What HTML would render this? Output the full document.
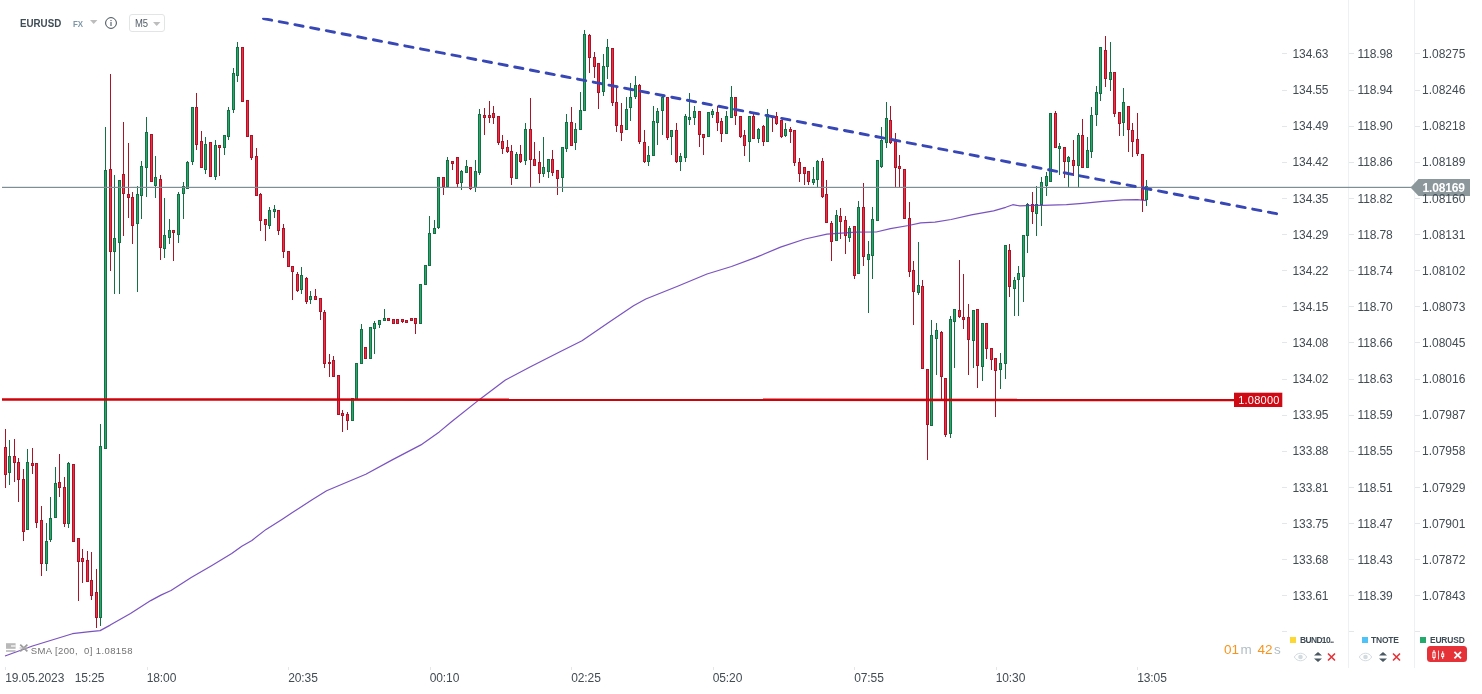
<!DOCTYPE html>
<html><head><meta charset="utf-8"><title>EURUSD M5</title>
<style>
html,body{margin:0;padding:0;background:#fff}
body{width:1482px;height:694px;position:relative;overflow:hidden;font-family:"Liberation Sans",sans-serif;color:#3e4a52}
div{position:absolute;white-space:nowrap}
.ax{font-size:12px;line-height:16px;color:#424c53;letter-spacing:-0.15px}
.tm{font-size:12px;line-height:16px;color:#424c53;letter-spacing:-0.1px}
</style></head><body>
<svg width="1482" height="694" viewBox="0 0 1482 694" style="position:absolute;left:0;top:0">
<g shape-rendering="crispEdges">
<rect x="1348" y="0" width="1" height="668" fill="#eef1f3"/>
<rect x="1414" y="0" width="1" height="668" fill="#eef1f3"/>
</g>
<g shape-rendering="crispEdges">
<rect x="5.0" y="429" width="1" height="59" fill="#a81529"/>
<rect x="4.0" y="447" width="3" height="28" fill="#a81529"/>
<rect x="5.0" y="448" width="1" height="26" fill="#f92a42"/>
<rect x="9.0" y="440" width="1" height="45" fill="#157043"/>
<rect x="8.0" y="456" width="3" height="17" fill="#157043"/>
<rect x="9.0" y="457" width="1" height="15" fill="#27a86e"/>
<rect x="14.0" y="439" width="1" height="43" fill="#a81529"/>
<rect x="13.0" y="456" width="3" height="7" fill="#a81529"/>
<rect x="14.0" y="457" width="1" height="5" fill="#f92a42"/>
<rect x="18.0" y="458" width="1" height="44" fill="#a81529"/>
<rect x="17.0" y="462" width="3" height="18" fill="#a81529"/>
<rect x="18.0" y="463" width="1" height="16" fill="#f92a42"/>
<rect x="23.0" y="469" width="1" height="72" fill="#a81529"/>
<rect x="22.0" y="479" width="3" height="53" fill="#a81529"/>
<rect x="23.0" y="480" width="1" height="51" fill="#f92a42"/>
<rect x="27.0" y="449" width="1" height="81" fill="#157043"/>
<rect x="26.0" y="462" width="3" height="68" fill="#157043"/>
<rect x="27.0" y="463" width="1" height="66" fill="#27a86e"/>
<rect x="32.0" y="448" width="1" height="26" fill="#a81529"/>
<rect x="31.0" y="463" width="3" height="3" fill="#a81529"/>
<rect x="32.0" y="464" width="1" height="1" fill="#f92a42"/>
<rect x="36.0" y="463" width="1" height="65" fill="#a81529"/>
<rect x="35.0" y="463" width="3" height="60" fill="#a81529"/>
<rect x="36.0" y="464" width="1" height="58" fill="#f92a42"/>
<rect x="41.0" y="506" width="1" height="70" fill="#a81529"/>
<rect x="40.0" y="520" width="3" height="44" fill="#a81529"/>
<rect x="41.0" y="521" width="1" height="42" fill="#f92a42"/>
<rect x="46.0" y="523" width="1" height="48" fill="#157043"/>
<rect x="45.0" y="541" width="3" height="23" fill="#157043"/>
<rect x="46.0" y="542" width="1" height="21" fill="#27a86e"/>
<rect x="50.0" y="497" width="1" height="45" fill="#157043"/>
<rect x="49.0" y="518" width="3" height="22" fill="#157043"/>
<rect x="50.0" y="519" width="1" height="20" fill="#27a86e"/>
<rect x="55.0" y="467" width="1" height="51" fill="#157043"/>
<rect x="54.0" y="483" width="3" height="35" fill="#157043"/>
<rect x="55.0" y="484" width="1" height="33" fill="#27a86e"/>
<rect x="59.0" y="454" width="1" height="43" fill="#a81529"/>
<rect x="58.0" y="482" width="3" height="6" fill="#a81529"/>
<rect x="59.0" y="483" width="1" height="4" fill="#f92a42"/>
<rect x="64.0" y="477" width="1" height="50" fill="#a81529"/>
<rect x="63.0" y="487" width="3" height="37" fill="#a81529"/>
<rect x="64.0" y="488" width="1" height="35" fill="#f92a42"/>
<rect x="68.0" y="462" width="1" height="66" fill="#157043"/>
<rect x="67.0" y="463" width="3" height="61" fill="#157043"/>
<rect x="68.0" y="464" width="1" height="59" fill="#27a86e"/>
<rect x="73.0" y="464" width="1" height="78" fill="#a81529"/>
<rect x="72.0" y="464" width="3" height="78" fill="#a81529"/>
<rect x="73.0" y="465" width="1" height="76" fill="#f92a42"/>
<rect x="78.0" y="538" width="1" height="63" fill="#a81529"/>
<rect x="77.0" y="538" width="3" height="24" fill="#a81529"/>
<rect x="78.0" y="539" width="1" height="22" fill="#f92a42"/>
<rect x="82.0" y="549" width="1" height="34" fill="#a81529"/>
<rect x="81.0" y="558" width="3" height="4" fill="#a81529"/>
<rect x="82.0" y="559" width="1" height="2" fill="#f92a42"/>
<rect x="87.0" y="551" width="1" height="31" fill="#a81529"/>
<rect x="86.0" y="560" width="3" height="22" fill="#a81529"/>
<rect x="87.0" y="561" width="1" height="20" fill="#f92a42"/>
<rect x="91.0" y="552" width="1" height="48" fill="#a81529"/>
<rect x="90.0" y="580" width="3" height="16" fill="#a81529"/>
<rect x="91.0" y="581" width="1" height="14" fill="#f92a42"/>
<rect x="96.0" y="569" width="1" height="59" fill="#a81529"/>
<rect x="95.0" y="592" width="3" height="26" fill="#a81529"/>
<rect x="96.0" y="593" width="1" height="24" fill="#f92a42"/>
<rect x="100.0" y="424" width="1" height="202" fill="#157043"/>
<rect x="99.0" y="446" width="3" height="172" fill="#157043"/>
<rect x="100.0" y="447" width="1" height="170" fill="#27a86e"/>
<rect x="105.0" y="127" width="1" height="322" fill="#157043"/>
<rect x="104.0" y="170" width="3" height="279" fill="#157043"/>
<rect x="105.0" y="171" width="1" height="277" fill="#27a86e"/>
<rect x="110.0" y="74" width="1" height="197" fill="#a81529"/>
<rect x="109.0" y="169" width="3" height="83" fill="#a81529"/>
<rect x="110.0" y="170" width="1" height="81" fill="#f92a42"/>
<rect x="114.0" y="175" width="1" height="119" fill="#157043"/>
<rect x="113.0" y="238" width="3" height="14" fill="#157043"/>
<rect x="114.0" y="239" width="1" height="12" fill="#27a86e"/>
<rect x="119.0" y="180" width="1" height="114" fill="#157043"/>
<rect x="118.0" y="180" width="3" height="63" fill="#157043"/>
<rect x="119.0" y="181" width="1" height="61" fill="#27a86e"/>
<rect x="123.0" y="122" width="1" height="114" fill="#a81529"/>
<rect x="122.0" y="174" width="3" height="20" fill="#a81529"/>
<rect x="123.0" y="175" width="1" height="18" fill="#f92a42"/>
<rect x="128.0" y="143" width="1" height="75" fill="#a81529"/>
<rect x="127.0" y="194" width="3" height="4" fill="#a81529"/>
<rect x="128.0" y="195" width="1" height="2" fill="#f92a42"/>
<rect x="132.0" y="192" width="1" height="52" fill="#a81529"/>
<rect x="131.0" y="197" width="3" height="29" fill="#a81529"/>
<rect x="132.0" y="198" width="1" height="27" fill="#f92a42"/>
<rect x="137.0" y="186" width="1" height="106" fill="#157043"/>
<rect x="136.0" y="194" width="3" height="30" fill="#157043"/>
<rect x="137.0" y="195" width="1" height="28" fill="#27a86e"/>
<rect x="141.0" y="161" width="1" height="58" fill="#157043"/>
<rect x="140.0" y="166" width="3" height="30" fill="#157043"/>
<rect x="141.0" y="167" width="1" height="28" fill="#27a86e"/>
<rect x="146.0" y="117" width="1" height="80" fill="#157043"/>
<rect x="145.0" y="132" width="3" height="36" fill="#157043"/>
<rect x="146.0" y="133" width="1" height="34" fill="#27a86e"/>
<rect x="151.0" y="134" width="1" height="48" fill="#a81529"/>
<rect x="150.0" y="134" width="3" height="48" fill="#a81529"/>
<rect x="151.0" y="135" width="1" height="46" fill="#f92a42"/>
<rect x="155.0" y="156" width="1" height="42" fill="#157043"/>
<rect x="154.0" y="177" width="3" height="9" fill="#157043"/>
<rect x="155.0" y="178" width="1" height="7" fill="#27a86e"/>
<rect x="160.0" y="175" width="1" height="85" fill="#a81529"/>
<rect x="159.0" y="179" width="3" height="69" fill="#a81529"/>
<rect x="160.0" y="180" width="1" height="67" fill="#f92a42"/>
<rect x="164.0" y="198" width="1" height="60" fill="#157043"/>
<rect x="163.0" y="235" width="3" height="14" fill="#157043"/>
<rect x="164.0" y="236" width="1" height="12" fill="#27a86e"/>
<rect x="169.0" y="219" width="1" height="25" fill="#157043"/>
<rect x="168.0" y="230" width="3" height="8" fill="#157043"/>
<rect x="169.0" y="231" width="1" height="6" fill="#27a86e"/>
<rect x="173.0" y="230" width="1" height="31" fill="#a81529"/>
<rect x="172.0" y="230" width="3" height="3" fill="#a81529"/>
<rect x="173.0" y="231" width="1" height="1" fill="#f92a42"/>
<rect x="178.0" y="192" width="1" height="51" fill="#157043"/>
<rect x="177.0" y="194" width="3" height="41" fill="#157043"/>
<rect x="178.0" y="195" width="1" height="39" fill="#27a86e"/>
<rect x="183.0" y="182" width="1" height="37" fill="#157043"/>
<rect x="182.0" y="186" width="3" height="8" fill="#157043"/>
<rect x="183.0" y="187" width="1" height="6" fill="#27a86e"/>
<rect x="187.0" y="161" width="1" height="28" fill="#157043"/>
<rect x="186.0" y="162" width="3" height="27" fill="#157043"/>
<rect x="187.0" y="163" width="1" height="25" fill="#27a86e"/>
<rect x="192.0" y="107" width="1" height="58" fill="#157043"/>
<rect x="191.0" y="107" width="3" height="55" fill="#157043"/>
<rect x="192.0" y="108" width="1" height="53" fill="#27a86e"/>
<rect x="196.0" y="93" width="1" height="57" fill="#a81529"/>
<rect x="195.0" y="107" width="3" height="38" fill="#a81529"/>
<rect x="196.0" y="108" width="1" height="36" fill="#f92a42"/>
<rect x="201.0" y="131" width="1" height="37" fill="#a81529"/>
<rect x="200.0" y="141" width="3" height="27" fill="#a81529"/>
<rect x="201.0" y="142" width="1" height="25" fill="#f92a42"/>
<rect x="205.0" y="137" width="1" height="37" fill="#157043"/>
<rect x="204.0" y="144" width="3" height="26" fill="#157043"/>
<rect x="205.0" y="145" width="1" height="24" fill="#27a86e"/>
<rect x="210.0" y="142" width="1" height="35" fill="#a81529"/>
<rect x="209.0" y="142" width="3" height="35" fill="#a81529"/>
<rect x="210.0" y="143" width="1" height="33" fill="#f92a42"/>
<rect x="215.0" y="140" width="1" height="40" fill="#157043"/>
<rect x="214.0" y="145" width="3" height="32" fill="#157043"/>
<rect x="215.0" y="146" width="1" height="30" fill="#27a86e"/>
<rect x="219.0" y="145" width="1" height="31" fill="#a81529"/>
<rect x="218.0" y="145" width="3" height="3" fill="#a81529"/>
<rect x="219.0" y="146" width="1" height="1" fill="#f92a42"/>
<rect x="224.0" y="135" width="1" height="20" fill="#157043"/>
<rect x="223.0" y="135" width="3" height="13" fill="#157043"/>
<rect x="224.0" y="136" width="1" height="11" fill="#27a86e"/>
<rect x="228.0" y="107" width="1" height="33" fill="#157043"/>
<rect x="227.0" y="110" width="3" height="27" fill="#157043"/>
<rect x="228.0" y="111" width="1" height="25" fill="#27a86e"/>
<rect x="233.0" y="68" width="1" height="45" fill="#157043"/>
<rect x="232.0" y="73" width="3" height="37" fill="#157043"/>
<rect x="233.0" y="74" width="1" height="35" fill="#27a86e"/>
<rect x="237.0" y="42" width="1" height="40" fill="#157043"/>
<rect x="236.0" y="47" width="3" height="29" fill="#157043"/>
<rect x="237.0" y="48" width="1" height="27" fill="#27a86e"/>
<rect x="242.0" y="47" width="1" height="55" fill="#a81529"/>
<rect x="241.0" y="47" width="3" height="55" fill="#a81529"/>
<rect x="242.0" y="48" width="1" height="53" fill="#f92a42"/>
<rect x="247.0" y="100" width="1" height="37" fill="#a81529"/>
<rect x="246.0" y="100" width="3" height="37" fill="#a81529"/>
<rect x="247.0" y="101" width="1" height="35" fill="#f92a42"/>
<rect x="251.0" y="135" width="1" height="25" fill="#a81529"/>
<rect x="250.0" y="135" width="3" height="23" fill="#a81529"/>
<rect x="251.0" y="136" width="1" height="21" fill="#f92a42"/>
<rect x="256.0" y="148" width="1" height="48" fill="#a81529"/>
<rect x="255.0" y="156" width="3" height="40" fill="#a81529"/>
<rect x="256.0" y="157" width="1" height="38" fill="#f92a42"/>
<rect x="260.0" y="193" width="1" height="38" fill="#a81529"/>
<rect x="259.0" y="194" width="3" height="27" fill="#a81529"/>
<rect x="260.0" y="195" width="1" height="25" fill="#f92a42"/>
<rect x="265.0" y="219" width="1" height="22" fill="#a81529"/>
<rect x="264.0" y="219" width="3" height="6" fill="#a81529"/>
<rect x="265.0" y="220" width="1" height="4" fill="#f92a42"/>
<rect x="269.0" y="207" width="1" height="22" fill="#157043"/>
<rect x="268.0" y="210" width="3" height="16" fill="#157043"/>
<rect x="269.0" y="211" width="1" height="14" fill="#27a86e"/>
<rect x="274.0" y="205" width="1" height="13" fill="#157043"/>
<rect x="273.0" y="209" width="3" height="3" fill="#157043"/>
<rect x="274.0" y="210" width="1" height="1" fill="#27a86e"/>
<rect x="278.0" y="210" width="1" height="25" fill="#a81529"/>
<rect x="277.0" y="210" width="3" height="21" fill="#a81529"/>
<rect x="278.0" y="211" width="1" height="19" fill="#f92a42"/>
<rect x="283.0" y="224" width="1" height="34" fill="#a81529"/>
<rect x="282.0" y="228" width="3" height="24" fill="#a81529"/>
<rect x="283.0" y="229" width="1" height="22" fill="#f92a42"/>
<rect x="288.0" y="251" width="1" height="16" fill="#a81529"/>
<rect x="287.0" y="251" width="3" height="16" fill="#a81529"/>
<rect x="288.0" y="252" width="1" height="14" fill="#f92a42"/>
<rect x="292.0" y="266" width="1" height="34" fill="#a81529"/>
<rect x="291.0" y="266" width="3" height="6" fill="#a81529"/>
<rect x="292.0" y="267" width="1" height="4" fill="#f92a42"/>
<rect x="297.0" y="272" width="1" height="20" fill="#a81529"/>
<rect x="296.0" y="274" width="3" height="17" fill="#a81529"/>
<rect x="297.0" y="275" width="1" height="15" fill="#f92a42"/>
<rect x="301.0" y="267" width="1" height="27" fill="#157043"/>
<rect x="300.0" y="275" width="3" height="15" fill="#157043"/>
<rect x="301.0" y="276" width="1" height="13" fill="#27a86e"/>
<rect x="306.0" y="277" width="1" height="27" fill="#a81529"/>
<rect x="305.0" y="278" width="3" height="24" fill="#a81529"/>
<rect x="306.0" y="279" width="1" height="22" fill="#f92a42"/>
<rect x="310.0" y="291" width="1" height="13" fill="#157043"/>
<rect x="309.0" y="296" width="3" height="4" fill="#157043"/>
<rect x="310.0" y="297" width="1" height="2" fill="#27a86e"/>
<rect x="315.0" y="289" width="1" height="11" fill="#a81529"/>
<rect x="314.0" y="296" width="3" height="4" fill="#a81529"/>
<rect x="315.0" y="297" width="1" height="2" fill="#f92a42"/>
<rect x="320.0" y="298" width="1" height="22" fill="#a81529"/>
<rect x="319.0" y="298" width="3" height="14" fill="#a81529"/>
<rect x="320.0" y="299" width="1" height="12" fill="#f92a42"/>
<rect x="324.0" y="310" width="1" height="58" fill="#a81529"/>
<rect x="323.0" y="312" width="3" height="52" fill="#a81529"/>
<rect x="324.0" y="313" width="1" height="50" fill="#f92a42"/>
<rect x="329.0" y="354" width="1" height="23" fill="#a81529"/>
<rect x="328.0" y="362" width="3" height="2" fill="#a81529"/>
<rect x="333.0" y="356" width="1" height="21" fill="#a81529"/>
<rect x="332.0" y="360" width="3" height="17" fill="#a81529"/>
<rect x="333.0" y="361" width="1" height="15" fill="#f92a42"/>
<rect x="338.0" y="375" width="1" height="40" fill="#a81529"/>
<rect x="337.0" y="375" width="3" height="40" fill="#a81529"/>
<rect x="338.0" y="376" width="1" height="38" fill="#f92a42"/>
<rect x="342.0" y="410" width="1" height="22" fill="#a81529"/>
<rect x="341.0" y="413" width="3" height="3" fill="#a81529"/>
<rect x="342.0" y="414" width="1" height="1" fill="#f92a42"/>
<rect x="347.0" y="412" width="1" height="18" fill="#a81529"/>
<rect x="346.0" y="414" width="3" height="7" fill="#a81529"/>
<rect x="347.0" y="415" width="1" height="5" fill="#f92a42"/>
<rect x="352.0" y="398" width="1" height="23" fill="#157043"/>
<rect x="351.0" y="398" width="3" height="23" fill="#157043"/>
<rect x="352.0" y="399" width="1" height="21" fill="#27a86e"/>
<rect x="356.0" y="363" width="1" height="37" fill="#157043"/>
<rect x="355.0" y="363" width="3" height="37" fill="#157043"/>
<rect x="356.0" y="364" width="1" height="35" fill="#27a86e"/>
<rect x="361.0" y="324" width="1" height="40" fill="#157043"/>
<rect x="360.0" y="329" width="3" height="35" fill="#157043"/>
<rect x="361.0" y="330" width="1" height="33" fill="#27a86e"/>
<rect x="365.0" y="347" width="1" height="12" fill="#a81529"/>
<rect x="364.0" y="347" width="3" height="12" fill="#a81529"/>
<rect x="365.0" y="348" width="1" height="10" fill="#f92a42"/>
<rect x="370.0" y="327" width="1" height="32" fill="#157043"/>
<rect x="369.0" y="327" width="3" height="32" fill="#157043"/>
<rect x="370.0" y="328" width="1" height="30" fill="#27a86e"/>
<rect x="374.0" y="321" width="1" height="33" fill="#157043"/>
<rect x="373.0" y="323" width="3" height="6" fill="#157043"/>
<rect x="374.0" y="324" width="1" height="4" fill="#27a86e"/>
<rect x="379.0" y="320" width="1" height="8" fill="#157043"/>
<rect x="378.0" y="320" width="3" height="5" fill="#157043"/>
<rect x="379.0" y="321" width="1" height="3" fill="#27a86e"/>
<rect x="384.0" y="309" width="1" height="12" fill="#157043"/>
<rect x="383.0" y="318" width="3" height="3" fill="#157043"/>
<rect x="384.0" y="319" width="1" height="1" fill="#27a86e"/>
<rect x="388.0" y="318" width="1" height="3" fill="#a81529"/>
<rect x="387.0" y="318" width="3" height="3" fill="#a81529"/>
<rect x="388.0" y="319" width="1" height="1" fill="#f92a42"/>
<rect x="393.0" y="319" width="1" height="5" fill="#a81529"/>
<rect x="392.0" y="319" width="3" height="5" fill="#a81529"/>
<rect x="393.0" y="320" width="1" height="3" fill="#f92a42"/>
<rect x="397.0" y="319" width="1" height="5" fill="#a81529"/>
<rect x="396.0" y="319" width="3" height="5" fill="#a81529"/>
<rect x="397.0" y="320" width="1" height="3" fill="#f92a42"/>
<rect x="402.0" y="319" width="1" height="4" fill="#a81529"/>
<rect x="401.0" y="319" width="3" height="3" fill="#a81529"/>
<rect x="402.0" y="320" width="1" height="1" fill="#f92a42"/>
<rect x="406.0" y="320" width="1" height="3" fill="#a81529"/>
<rect x="405.0" y="320" width="3" height="3" fill="#a81529"/>
<rect x="406.0" y="321" width="1" height="1" fill="#f92a42"/>
<rect x="411.0" y="318" width="1" height="3" fill="#a81529"/>
<rect x="410.0" y="318" width="3" height="3" fill="#a81529"/>
<rect x="411.0" y="319" width="1" height="1" fill="#f92a42"/>
<rect x="415.0" y="318" width="1" height="16" fill="#a81529"/>
<rect x="414.0" y="318" width="3" height="6" fill="#a81529"/>
<rect x="415.0" y="319" width="1" height="4" fill="#f92a42"/>
<rect x="420.0" y="284" width="1" height="40" fill="#157043"/>
<rect x="419.0" y="284" width="3" height="40" fill="#157043"/>
<rect x="420.0" y="285" width="1" height="38" fill="#27a86e"/>
<rect x="425.0" y="265" width="1" height="20" fill="#157043"/>
<rect x="424.0" y="265" width="3" height="20" fill="#157043"/>
<rect x="425.0" y="266" width="1" height="18" fill="#27a86e"/>
<rect x="429.0" y="216" width="1" height="50" fill="#157043"/>
<rect x="428.0" y="233" width="3" height="33" fill="#157043"/>
<rect x="429.0" y="234" width="1" height="31" fill="#27a86e"/>
<rect x="434.0" y="220" width="1" height="14" fill="#157043"/>
<rect x="433.0" y="228" width="3" height="6" fill="#157043"/>
<rect x="434.0" y="229" width="1" height="4" fill="#27a86e"/>
<rect x="438.0" y="177" width="1" height="52" fill="#157043"/>
<rect x="437.0" y="177" width="3" height="51" fill="#157043"/>
<rect x="438.0" y="178" width="1" height="49" fill="#27a86e"/>
<rect x="443.0" y="177" width="1" height="18" fill="#a81529"/>
<rect x="442.0" y="177" width="3" height="10" fill="#a81529"/>
<rect x="443.0" y="178" width="1" height="8" fill="#f92a42"/>
<rect x="447.0" y="157" width="1" height="30" fill="#157043"/>
<rect x="446.0" y="160" width="3" height="27" fill="#157043"/>
<rect x="447.0" y="161" width="1" height="25" fill="#27a86e"/>
<rect x="452.0" y="161" width="1" height="9" fill="#a81529"/>
<rect x="451.0" y="161" width="3" height="3" fill="#a81529"/>
<rect x="452.0" y="162" width="1" height="1" fill="#f92a42"/>
<rect x="457.0" y="157" width="1" height="30" fill="#a81529"/>
<rect x="456.0" y="157" width="3" height="27" fill="#a81529"/>
<rect x="457.0" y="158" width="1" height="25" fill="#f92a42"/>
<rect x="461.0" y="170" width="1" height="20" fill="#157043"/>
<rect x="460.0" y="171" width="3" height="12" fill="#157043"/>
<rect x="461.0" y="172" width="1" height="10" fill="#27a86e"/>
<rect x="466.0" y="160" width="1" height="13" fill="#157043"/>
<rect x="465.0" y="166" width="3" height="7" fill="#157043"/>
<rect x="466.0" y="167" width="1" height="5" fill="#27a86e"/>
<rect x="470.0" y="167" width="1" height="23" fill="#a81529"/>
<rect x="469.0" y="167" width="3" height="22" fill="#a81529"/>
<rect x="470.0" y="168" width="1" height="20" fill="#f92a42"/>
<rect x="475.0" y="160" width="1" height="32" fill="#157043"/>
<rect x="474.0" y="171" width="3" height="17" fill="#157043"/>
<rect x="475.0" y="172" width="1" height="15" fill="#27a86e"/>
<rect x="479.0" y="109" width="1" height="66" fill="#157043"/>
<rect x="478.0" y="114" width="3" height="59" fill="#157043"/>
<rect x="479.0" y="115" width="1" height="57" fill="#27a86e"/>
<rect x="484.0" y="108" width="1" height="27" fill="#a81529"/>
<rect x="483.0" y="115" width="3" height="3" fill="#a81529"/>
<rect x="484.0" y="116" width="1" height="1" fill="#f92a42"/>
<rect x="489.0" y="101" width="1" height="22" fill="#a81529"/>
<rect x="488.0" y="115" width="3" height="3" fill="#a81529"/>
<rect x="489.0" y="116" width="1" height="1" fill="#f92a42"/>
<rect x="493.0" y="106" width="1" height="18" fill="#a81529"/>
<rect x="492.0" y="113" width="3" height="5" fill="#a81529"/>
<rect x="493.0" y="114" width="1" height="3" fill="#f92a42"/>
<rect x="498.0" y="116" width="1" height="29" fill="#a81529"/>
<rect x="497.0" y="116" width="3" height="27" fill="#a81529"/>
<rect x="498.0" y="117" width="1" height="25" fill="#f92a42"/>
<rect x="502.0" y="135" width="1" height="19" fill="#a81529"/>
<rect x="501.0" y="141" width="3" height="8" fill="#a81529"/>
<rect x="502.0" y="142" width="1" height="6" fill="#f92a42"/>
<rect x="507.0" y="140" width="1" height="13" fill="#a81529"/>
<rect x="506.0" y="147" width="3" height="5" fill="#a81529"/>
<rect x="507.0" y="148" width="1" height="3" fill="#f92a42"/>
<rect x="511.0" y="145" width="1" height="40" fill="#a81529"/>
<rect x="510.0" y="151" width="3" height="27" fill="#a81529"/>
<rect x="511.0" y="152" width="1" height="25" fill="#f92a42"/>
<rect x="516.0" y="152" width="1" height="27" fill="#157043"/>
<rect x="515.0" y="154" width="3" height="25" fill="#157043"/>
<rect x="516.0" y="155" width="1" height="23" fill="#27a86e"/>
<rect x="520.0" y="145" width="1" height="18" fill="#a81529"/>
<rect x="519.0" y="154" width="3" height="8" fill="#a81529"/>
<rect x="520.0" y="155" width="1" height="6" fill="#f92a42"/>
<rect x="525.0" y="123" width="1" height="42" fill="#157043"/>
<rect x="524.0" y="129" width="3" height="32" fill="#157043"/>
<rect x="525.0" y="130" width="1" height="30" fill="#27a86e"/>
<rect x="530.0" y="98" width="1" height="89" fill="#a81529"/>
<rect x="529.0" y="129" width="3" height="31" fill="#a81529"/>
<rect x="530.0" y="130" width="1" height="29" fill="#f92a42"/>
<rect x="534.0" y="142" width="1" height="24" fill="#a81529"/>
<rect x="533.0" y="159" width="3" height="7" fill="#a81529"/>
<rect x="534.0" y="160" width="1" height="5" fill="#f92a42"/>
<rect x="539.0" y="151" width="1" height="32" fill="#a81529"/>
<rect x="538.0" y="162" width="3" height="12" fill="#a81529"/>
<rect x="539.0" y="163" width="1" height="10" fill="#f92a42"/>
<rect x="543.0" y="137" width="1" height="40" fill="#157043"/>
<rect x="542.0" y="167" width="3" height="7" fill="#157043"/>
<rect x="543.0" y="168" width="1" height="5" fill="#27a86e"/>
<rect x="548.0" y="159" width="1" height="19" fill="#157043"/>
<rect x="547.0" y="159" width="3" height="13" fill="#157043"/>
<rect x="548.0" y="160" width="1" height="11" fill="#27a86e"/>
<rect x="552.0" y="150" width="1" height="26" fill="#a81529"/>
<rect x="551.0" y="159" width="3" height="14" fill="#a81529"/>
<rect x="552.0" y="160" width="1" height="12" fill="#f92a42"/>
<rect x="557.0" y="170" width="1" height="25" fill="#a81529"/>
<rect x="556.0" y="170" width="3" height="9" fill="#a81529"/>
<rect x="557.0" y="171" width="1" height="7" fill="#f92a42"/>
<rect x="562.0" y="147" width="1" height="45" fill="#157043"/>
<rect x="561.0" y="147" width="3" height="31" fill="#157043"/>
<rect x="562.0" y="148" width="1" height="29" fill="#27a86e"/>
<rect x="566.0" y="114" width="1" height="38" fill="#157043"/>
<rect x="565.0" y="122" width="3" height="27" fill="#157043"/>
<rect x="566.0" y="123" width="1" height="25" fill="#27a86e"/>
<rect x="571.0" y="107" width="1" height="39" fill="#a81529"/>
<rect x="570.0" y="122" width="3" height="24" fill="#a81529"/>
<rect x="571.0" y="123" width="1" height="22" fill="#f92a42"/>
<rect x="575.0" y="123" width="1" height="27" fill="#157043"/>
<rect x="574.0" y="129" width="3" height="14" fill="#157043"/>
<rect x="575.0" y="130" width="1" height="12" fill="#27a86e"/>
<rect x="580.0" y="92" width="1" height="38" fill="#157043"/>
<rect x="579.0" y="110" width="3" height="20" fill="#157043"/>
<rect x="580.0" y="111" width="1" height="18" fill="#27a86e"/>
<rect x="584.0" y="30" width="1" height="81" fill="#157043"/>
<rect x="583.0" y="34" width="3" height="77" fill="#157043"/>
<rect x="584.0" y="35" width="1" height="75" fill="#27a86e"/>
<rect x="589.0" y="34" width="1" height="39" fill="#a81529"/>
<rect x="588.0" y="35" width="3" height="23" fill="#a81529"/>
<rect x="589.0" y="36" width="1" height="21" fill="#f92a42"/>
<rect x="594.0" y="52" width="1" height="26" fill="#a81529"/>
<rect x="593.0" y="57" width="3" height="10" fill="#a81529"/>
<rect x="594.0" y="58" width="1" height="8" fill="#f92a42"/>
<rect x="598.0" y="63" width="1" height="46" fill="#a81529"/>
<rect x="597.0" y="63" width="3" height="30" fill="#a81529"/>
<rect x="598.0" y="64" width="1" height="28" fill="#f92a42"/>
<rect x="603.0" y="54" width="1" height="42" fill="#157043"/>
<rect x="602.0" y="66" width="3" height="26" fill="#157043"/>
<rect x="603.0" y="67" width="1" height="24" fill="#27a86e"/>
<rect x="607.0" y="39" width="1" height="40" fill="#157043"/>
<rect x="606.0" y="47" width="3" height="20" fill="#157043"/>
<rect x="607.0" y="48" width="1" height="18" fill="#27a86e"/>
<rect x="612.0" y="48" width="1" height="58" fill="#a81529"/>
<rect x="611.0" y="48" width="3" height="55" fill="#a81529"/>
<rect x="612.0" y="49" width="1" height="53" fill="#f92a42"/>
<rect x="616.0" y="87" width="1" height="45" fill="#a81529"/>
<rect x="615.0" y="102" width="3" height="24" fill="#a81529"/>
<rect x="616.0" y="103" width="1" height="22" fill="#f92a42"/>
<rect x="621.0" y="103" width="1" height="38" fill="#a81529"/>
<rect x="620.0" y="125" width="3" height="8" fill="#a81529"/>
<rect x="621.0" y="126" width="1" height="6" fill="#f92a42"/>
<rect x="626.0" y="97" width="1" height="33" fill="#157043"/>
<rect x="625.0" y="109" width="3" height="21" fill="#157043"/>
<rect x="626.0" y="110" width="1" height="19" fill="#27a86e"/>
<rect x="630.0" y="83" width="1" height="38" fill="#157043"/>
<rect x="629.0" y="97" width="3" height="11" fill="#157043"/>
<rect x="630.0" y="98" width="1" height="9" fill="#27a86e"/>
<rect x="635.0" y="76" width="1" height="23" fill="#157043"/>
<rect x="634.0" y="85" width="3" height="12" fill="#157043"/>
<rect x="635.0" y="86" width="1" height="10" fill="#27a86e"/>
<rect x="639.0" y="84" width="1" height="60" fill="#a81529"/>
<rect x="638.0" y="85" width="3" height="57" fill="#a81529"/>
<rect x="639.0" y="86" width="1" height="55" fill="#f92a42"/>
<rect x="644.0" y="130" width="1" height="33" fill="#a81529"/>
<rect x="643.0" y="142" width="3" height="20" fill="#a81529"/>
<rect x="644.0" y="143" width="1" height="18" fill="#f92a42"/>
<rect x="648.0" y="146" width="1" height="20" fill="#157043"/>
<rect x="647.0" y="155" width="3" height="7" fill="#157043"/>
<rect x="648.0" y="156" width="1" height="5" fill="#27a86e"/>
<rect x="653.0" y="106" width="1" height="50" fill="#157043"/>
<rect x="652.0" y="121" width="3" height="35" fill="#157043"/>
<rect x="653.0" y="122" width="1" height="33" fill="#27a86e"/>
<rect x="657.0" y="108" width="1" height="37" fill="#157043"/>
<rect x="656.0" y="111" width="3" height="12" fill="#157043"/>
<rect x="657.0" y="112" width="1" height="10" fill="#27a86e"/>
<rect x="662.0" y="94" width="1" height="41" fill="#157043"/>
<rect x="661.0" y="97" width="3" height="14" fill="#157043"/>
<rect x="662.0" y="98" width="1" height="12" fill="#27a86e"/>
<rect x="667.0" y="97" width="1" height="43" fill="#a81529"/>
<rect x="666.0" y="97" width="3" height="41" fill="#a81529"/>
<rect x="667.0" y="98" width="1" height="39" fill="#f92a42"/>
<rect x="671.0" y="130" width="1" height="25" fill="#157043"/>
<rect x="670.0" y="130" width="3" height="7" fill="#157043"/>
<rect x="671.0" y="131" width="1" height="5" fill="#27a86e"/>
<rect x="676.0" y="123" width="1" height="40" fill="#a81529"/>
<rect x="675.0" y="130" width="3" height="32" fill="#a81529"/>
<rect x="676.0" y="131" width="1" height="30" fill="#f92a42"/>
<rect x="680.0" y="153" width="1" height="18" fill="#157043"/>
<rect x="679.0" y="156" width="3" height="6" fill="#157043"/>
<rect x="680.0" y="157" width="1" height="4" fill="#27a86e"/>
<rect x="685.0" y="114" width="1" height="48" fill="#157043"/>
<rect x="684.0" y="116" width="3" height="42" fill="#157043"/>
<rect x="685.0" y="117" width="1" height="40" fill="#27a86e"/>
<rect x="689.0" y="93" width="1" height="32" fill="#157043"/>
<rect x="688.0" y="117" width="3" height="3" fill="#157043"/>
<rect x="689.0" y="118" width="1" height="1" fill="#27a86e"/>
<rect x="694.0" y="106" width="1" height="19" fill="#157043"/>
<rect x="693.0" y="111" width="3" height="7" fill="#157043"/>
<rect x="694.0" y="112" width="1" height="5" fill="#27a86e"/>
<rect x="699.0" y="111" width="1" height="36" fill="#a81529"/>
<rect x="698.0" y="111" width="3" height="24" fill="#a81529"/>
<rect x="699.0" y="112" width="1" height="22" fill="#f92a42"/>
<rect x="703.0" y="134" width="1" height="21" fill="#a81529"/>
<rect x="702.0" y="134" width="3" height="4" fill="#a81529"/>
<rect x="703.0" y="135" width="1" height="2" fill="#f92a42"/>
<rect x="708.0" y="112" width="1" height="25" fill="#157043"/>
<rect x="707.0" y="112" width="3" height="25" fill="#157043"/>
<rect x="708.0" y="113" width="1" height="23" fill="#27a86e"/>
<rect x="712.0" y="109" width="1" height="9" fill="#157043"/>
<rect x="711.0" y="111" width="3" height="4" fill="#157043"/>
<rect x="712.0" y="112" width="1" height="2" fill="#27a86e"/>
<rect x="717.0" y="106" width="1" height="25" fill="#a81529"/>
<rect x="716.0" y="112" width="3" height="11" fill="#a81529"/>
<rect x="717.0" y="113" width="1" height="9" fill="#f92a42"/>
<rect x="721.0" y="118" width="1" height="24" fill="#a81529"/>
<rect x="720.0" y="121" width="3" height="13" fill="#a81529"/>
<rect x="721.0" y="122" width="1" height="11" fill="#f92a42"/>
<rect x="726.0" y="111" width="1" height="23" fill="#157043"/>
<rect x="725.0" y="116" width="3" height="18" fill="#157043"/>
<rect x="726.0" y="117" width="1" height="16" fill="#27a86e"/>
<rect x="731.0" y="86" width="1" height="32" fill="#157043"/>
<rect x="730.0" y="97" width="3" height="21" fill="#157043"/>
<rect x="731.0" y="98" width="1" height="19" fill="#27a86e"/>
<rect x="735.0" y="97" width="1" height="28" fill="#a81529"/>
<rect x="734.0" y="97" width="3" height="19" fill="#a81529"/>
<rect x="735.0" y="98" width="1" height="17" fill="#f92a42"/>
<rect x="740.0" y="116" width="1" height="22" fill="#a81529"/>
<rect x="739.0" y="116" width="3" height="21" fill="#a81529"/>
<rect x="740.0" y="117" width="1" height="19" fill="#f92a42"/>
<rect x="744.0" y="130" width="1" height="26" fill="#a81529"/>
<rect x="743.0" y="135" width="3" height="11" fill="#a81529"/>
<rect x="744.0" y="136" width="1" height="9" fill="#f92a42"/>
<rect x="749.0" y="116" width="1" height="46" fill="#157043"/>
<rect x="748.0" y="116" width="3" height="26" fill="#157043"/>
<rect x="749.0" y="117" width="1" height="24" fill="#27a86e"/>
<rect x="753.0" y="113" width="1" height="26" fill="#a81529"/>
<rect x="752.0" y="116" width="3" height="23" fill="#a81529"/>
<rect x="753.0" y="117" width="1" height="21" fill="#f92a42"/>
<rect x="758.0" y="128" width="1" height="15" fill="#157043"/>
<rect x="757.0" y="129" width="3" height="10" fill="#157043"/>
<rect x="758.0" y="130" width="1" height="8" fill="#27a86e"/>
<rect x="763.0" y="125" width="1" height="21" fill="#a81529"/>
<rect x="762.0" y="126" width="3" height="16" fill="#a81529"/>
<rect x="763.0" y="127" width="1" height="14" fill="#f92a42"/>
<rect x="767.0" y="109" width="1" height="33" fill="#157043"/>
<rect x="766.0" y="114" width="3" height="28" fill="#157043"/>
<rect x="767.0" y="115" width="1" height="26" fill="#27a86e"/>
<rect x="772.0" y="116" width="1" height="16" fill="#a81529"/>
<rect x="771.0" y="116" width="3" height="2" fill="#a81529"/>
<rect x="776.0" y="112" width="1" height="13" fill="#a81529"/>
<rect x="775.0" y="116" width="3" height="8" fill="#a81529"/>
<rect x="776.0" y="117" width="1" height="6" fill="#f92a42"/>
<rect x="781.0" y="120" width="1" height="18" fill="#a81529"/>
<rect x="780.0" y="120" width="3" height="17" fill="#a81529"/>
<rect x="781.0" y="121" width="1" height="15" fill="#f92a42"/>
<rect x="785.0" y="123" width="1" height="14" fill="#157043"/>
<rect x="784.0" y="129" width="3" height="7" fill="#157043"/>
<rect x="785.0" y="130" width="1" height="5" fill="#27a86e"/>
<rect x="790.0" y="127" width="1" height="16" fill="#a81529"/>
<rect x="789.0" y="129" width="3" height="3" fill="#a81529"/>
<rect x="790.0" y="130" width="1" height="1" fill="#f92a42"/>
<rect x="794.0" y="130" width="1" height="36" fill="#a81529"/>
<rect x="793.0" y="130" width="3" height="33" fill="#a81529"/>
<rect x="794.0" y="131" width="1" height="31" fill="#f92a42"/>
<rect x="799.0" y="158" width="1" height="24" fill="#a81529"/>
<rect x="798.0" y="162" width="3" height="12" fill="#a81529"/>
<rect x="799.0" y="163" width="1" height="10" fill="#f92a42"/>
<rect x="804.0" y="167" width="1" height="18" fill="#a81529"/>
<rect x="803.0" y="167" width="3" height="7" fill="#a81529"/>
<rect x="804.0" y="168" width="1" height="5" fill="#f92a42"/>
<rect x="808.0" y="171" width="1" height="14" fill="#a81529"/>
<rect x="807.0" y="171" width="3" height="11" fill="#a81529"/>
<rect x="808.0" y="172" width="1" height="9" fill="#f92a42"/>
<rect x="813.0" y="167" width="1" height="18" fill="#157043"/>
<rect x="812.0" y="179" width="3" height="4" fill="#157043"/>
<rect x="813.0" y="180" width="1" height="2" fill="#27a86e"/>
<rect x="817.0" y="160" width="1" height="28" fill="#157043"/>
<rect x="816.0" y="161" width="3" height="19" fill="#157043"/>
<rect x="817.0" y="162" width="1" height="17" fill="#27a86e"/>
<rect x="822.0" y="158" width="1" height="40" fill="#a81529"/>
<rect x="821.0" y="161" width="3" height="36" fill="#a81529"/>
<rect x="822.0" y="162" width="1" height="34" fill="#f92a42"/>
<rect x="826.0" y="180" width="1" height="43" fill="#a81529"/>
<rect x="825.0" y="194" width="3" height="29" fill="#a81529"/>
<rect x="826.0" y="195" width="1" height="27" fill="#f92a42"/>
<rect x="831.0" y="221" width="1" height="40" fill="#a81529"/>
<rect x="830.0" y="223" width="3" height="19" fill="#a81529"/>
<rect x="831.0" y="224" width="1" height="17" fill="#f92a42"/>
<rect x="836.0" y="210" width="1" height="31" fill="#157043"/>
<rect x="835.0" y="215" width="3" height="26" fill="#157043"/>
<rect x="836.0" y="216" width="1" height="24" fill="#27a86e"/>
<rect x="840.0" y="208" width="1" height="31" fill="#a81529"/>
<rect x="839.0" y="216" width="3" height="6" fill="#a81529"/>
<rect x="840.0" y="217" width="1" height="4" fill="#f92a42"/>
<rect x="845.0" y="216" width="1" height="38" fill="#a81529"/>
<rect x="844.0" y="220" width="3" height="16" fill="#a81529"/>
<rect x="845.0" y="221" width="1" height="14" fill="#f92a42"/>
<rect x="849.0" y="226" width="1" height="16" fill="#157043"/>
<rect x="848.0" y="228" width="3" height="10" fill="#157043"/>
<rect x="849.0" y="229" width="1" height="8" fill="#27a86e"/>
<rect x="854.0" y="226" width="1" height="53" fill="#a81529"/>
<rect x="853.0" y="226" width="3" height="50" fill="#a81529"/>
<rect x="854.0" y="227" width="1" height="48" fill="#f92a42"/>
<rect x="858.0" y="201" width="1" height="73" fill="#157043"/>
<rect x="857.0" y="207" width="3" height="67" fill="#157043"/>
<rect x="858.0" y="208" width="1" height="65" fill="#27a86e"/>
<rect x="863.0" y="183" width="1" height="83" fill="#a81529"/>
<rect x="862.0" y="207" width="3" height="50" fill="#a81529"/>
<rect x="863.0" y="208" width="1" height="48" fill="#f92a42"/>
<rect x="868.0" y="241" width="1" height="72" fill="#157043"/>
<rect x="867.0" y="254" width="3" height="6" fill="#157043"/>
<rect x="868.0" y="255" width="1" height="4" fill="#27a86e"/>
<rect x="872.0" y="207" width="1" height="72" fill="#157043"/>
<rect x="871.0" y="219" width="3" height="37" fill="#157043"/>
<rect x="872.0" y="220" width="1" height="35" fill="#27a86e"/>
<rect x="877.0" y="160" width="1" height="61" fill="#157043"/>
<rect x="876.0" y="160" width="3" height="61" fill="#157043"/>
<rect x="877.0" y="161" width="1" height="59" fill="#27a86e"/>
<rect x="881.0" y="127" width="1" height="41" fill="#157043"/>
<rect x="880.0" y="140" width="3" height="27" fill="#157043"/>
<rect x="881.0" y="141" width="1" height="25" fill="#27a86e"/>
<rect x="886.0" y="102" width="1" height="46" fill="#157043"/>
<rect x="885.0" y="118" width="3" height="25" fill="#157043"/>
<rect x="886.0" y="119" width="1" height="23" fill="#27a86e"/>
<rect x="890.0" y="106" width="1" height="38" fill="#a81529"/>
<rect x="889.0" y="120" width="3" height="23" fill="#a81529"/>
<rect x="890.0" y="121" width="1" height="21" fill="#f92a42"/>
<rect x="895.0" y="133" width="1" height="54" fill="#a81529"/>
<rect x="894.0" y="141" width="3" height="27" fill="#a81529"/>
<rect x="895.0" y="142" width="1" height="25" fill="#f92a42"/>
<rect x="899.0" y="155" width="1" height="32" fill="#a81529"/>
<rect x="898.0" y="166" width="3" height="3" fill="#a81529"/>
<rect x="899.0" y="167" width="1" height="1" fill="#f92a42"/>
<rect x="904.0" y="169" width="1" height="50" fill="#a81529"/>
<rect x="903.0" y="169" width="3" height="50" fill="#a81529"/>
<rect x="904.0" y="170" width="1" height="48" fill="#f92a42"/>
<rect x="909.0" y="202" width="1" height="75" fill="#a81529"/>
<rect x="908.0" y="218" width="3" height="54" fill="#a81529"/>
<rect x="909.0" y="219" width="1" height="52" fill="#f92a42"/>
<rect x="913.0" y="261" width="1" height="64" fill="#a81529"/>
<rect x="912.0" y="270" width="3" height="22" fill="#a81529"/>
<rect x="913.0" y="271" width="1" height="20" fill="#f92a42"/>
<rect x="918.0" y="242" width="1" height="53" fill="#157043"/>
<rect x="917.0" y="285" width="3" height="8" fill="#157043"/>
<rect x="918.0" y="286" width="1" height="6" fill="#27a86e"/>
<rect x="922.0" y="280" width="1" height="89" fill="#a81529"/>
<rect x="921.0" y="286" width="3" height="83" fill="#a81529"/>
<rect x="922.0" y="287" width="1" height="81" fill="#f92a42"/>
<rect x="927.0" y="369" width="1" height="91" fill="#a81529"/>
<rect x="926.0" y="369" width="3" height="56" fill="#a81529"/>
<rect x="927.0" y="370" width="1" height="54" fill="#f92a42"/>
<rect x="931.0" y="320" width="1" height="106" fill="#157043"/>
<rect x="930.0" y="335" width="3" height="91" fill="#157043"/>
<rect x="931.0" y="336" width="1" height="89" fill="#27a86e"/>
<rect x="936.0" y="323" width="1" height="52" fill="#157043"/>
<rect x="935.0" y="330" width="3" height="9" fill="#157043"/>
<rect x="936.0" y="331" width="1" height="7" fill="#27a86e"/>
<rect x="941.0" y="331" width="1" height="69" fill="#a81529"/>
<rect x="940.0" y="332" width="3" height="45" fill="#a81529"/>
<rect x="941.0" y="333" width="1" height="43" fill="#f92a42"/>
<rect x="945.0" y="378" width="1" height="59" fill="#a81529"/>
<rect x="944.0" y="378" width="3" height="57" fill="#a81529"/>
<rect x="945.0" y="379" width="1" height="55" fill="#f92a42"/>
<rect x="950.0" y="316" width="1" height="122" fill="#157043"/>
<rect x="949.0" y="319" width="3" height="115" fill="#157043"/>
<rect x="950.0" y="320" width="1" height="113" fill="#27a86e"/>
<rect x="954.0" y="309" width="1" height="59" fill="#157043"/>
<rect x="953.0" y="309" width="3" height="13" fill="#157043"/>
<rect x="954.0" y="310" width="1" height="11" fill="#27a86e"/>
<rect x="959.0" y="260" width="1" height="58" fill="#a81529"/>
<rect x="958.0" y="310" width="3" height="7" fill="#a81529"/>
<rect x="959.0" y="311" width="1" height="5" fill="#f92a42"/>
<rect x="963.0" y="274" width="1" height="55" fill="#a81529"/>
<rect x="962.0" y="317" width="3" height="3" fill="#a81529"/>
<rect x="963.0" y="318" width="1" height="1" fill="#f92a42"/>
<rect x="968.0" y="304" width="1" height="71" fill="#a81529"/>
<rect x="967.0" y="317" width="3" height="23" fill="#a81529"/>
<rect x="968.0" y="318" width="1" height="21" fill="#f92a42"/>
<rect x="973.0" y="310" width="1" height="58" fill="#157043"/>
<rect x="972.0" y="310" width="3" height="31" fill="#157043"/>
<rect x="973.0" y="311" width="1" height="29" fill="#27a86e"/>
<rect x="977.0" y="309" width="1" height="79" fill="#a81529"/>
<rect x="976.0" y="309" width="3" height="57" fill="#a81529"/>
<rect x="977.0" y="310" width="1" height="55" fill="#f92a42"/>
<rect x="982.0" y="323" width="1" height="58" fill="#157043"/>
<rect x="981.0" y="323" width="3" height="44" fill="#157043"/>
<rect x="982.0" y="324" width="1" height="42" fill="#27a86e"/>
<rect x="986.0" y="323" width="1" height="36" fill="#a81529"/>
<rect x="985.0" y="323" width="3" height="26" fill="#a81529"/>
<rect x="986.0" y="324" width="1" height="24" fill="#f92a42"/>
<rect x="991.0" y="348" width="1" height="22" fill="#a81529"/>
<rect x="990.0" y="348" width="3" height="12" fill="#a81529"/>
<rect x="991.0" y="349" width="1" height="10" fill="#f92a42"/>
<rect x="995.0" y="358" width="1" height="59" fill="#a81529"/>
<rect x="994.0" y="358" width="3" height="13" fill="#a81529"/>
<rect x="995.0" y="359" width="1" height="11" fill="#f92a42"/>
<rect x="1000.0" y="353" width="1" height="36" fill="#157043"/>
<rect x="999.0" y="363" width="3" height="7" fill="#157043"/>
<rect x="1000.0" y="364" width="1" height="5" fill="#27a86e"/>
<rect x="1005.0" y="245" width="1" height="134" fill="#157043"/>
<rect x="1004.0" y="245" width="3" height="119" fill="#157043"/>
<rect x="1005.0" y="246" width="1" height="117" fill="#27a86e"/>
<rect x="1009.0" y="244" width="1" height="53" fill="#a81529"/>
<rect x="1008.0" y="250" width="3" height="37" fill="#a81529"/>
<rect x="1009.0" y="251" width="1" height="35" fill="#f92a42"/>
<rect x="1014.0" y="277" width="1" height="39" fill="#157043"/>
<rect x="1013.0" y="280" width="3" height="9" fill="#157043"/>
<rect x="1014.0" y="281" width="1" height="7" fill="#27a86e"/>
<rect x="1018.0" y="266" width="1" height="50" fill="#157043"/>
<rect x="1017.0" y="273" width="3" height="7" fill="#157043"/>
<rect x="1018.0" y="274" width="1" height="5" fill="#27a86e"/>
<rect x="1023.0" y="235" width="1" height="67" fill="#157043"/>
<rect x="1022.0" y="235" width="3" height="42" fill="#157043"/>
<rect x="1023.0" y="236" width="1" height="40" fill="#27a86e"/>
<rect x="1027.0" y="203" width="1" height="50" fill="#157043"/>
<rect x="1026.0" y="204" width="3" height="32" fill="#157043"/>
<rect x="1027.0" y="205" width="1" height="30" fill="#27a86e"/>
<rect x="1032.0" y="192" width="1" height="32" fill="#a81529"/>
<rect x="1031.0" y="204" width="3" height="8" fill="#a81529"/>
<rect x="1032.0" y="205" width="1" height="6" fill="#f92a42"/>
<rect x="1036.0" y="186" width="1" height="50" fill="#157043"/>
<rect x="1035.0" y="204" width="3" height="10" fill="#157043"/>
<rect x="1036.0" y="205" width="1" height="8" fill="#27a86e"/>
<rect x="1041.0" y="177" width="1" height="49" fill="#157043"/>
<rect x="1040.0" y="182" width="3" height="23" fill="#157043"/>
<rect x="1041.0" y="183" width="1" height="21" fill="#27a86e"/>
<rect x="1046.0" y="172" width="1" height="24" fill="#157043"/>
<rect x="1045.0" y="176" width="3" height="10" fill="#157043"/>
<rect x="1046.0" y="177" width="1" height="8" fill="#27a86e"/>
<rect x="1050.0" y="113" width="1" height="69" fill="#157043"/>
<rect x="1049.0" y="113" width="3" height="69" fill="#157043"/>
<rect x="1050.0" y="114" width="1" height="67" fill="#27a86e"/>
<rect x="1055.0" y="111" width="1" height="37" fill="#a81529"/>
<rect x="1054.0" y="113" width="3" height="35" fill="#a81529"/>
<rect x="1055.0" y="114" width="1" height="33" fill="#f92a42"/>
<rect x="1059.0" y="143" width="1" height="32" fill="#157043"/>
<rect x="1058.0" y="146" width="3" height="3" fill="#157043"/>
<rect x="1059.0" y="147" width="1" height="1" fill="#27a86e"/>
<rect x="1064.0" y="147" width="1" height="31" fill="#a81529"/>
<rect x="1063.0" y="147" width="3" height="15" fill="#a81529"/>
<rect x="1064.0" y="148" width="1" height="13" fill="#f92a42"/>
<rect x="1068.0" y="156" width="1" height="31" fill="#157043"/>
<rect x="1067.0" y="157" width="3" height="5" fill="#157043"/>
<rect x="1068.0" y="158" width="1" height="3" fill="#27a86e"/>
<rect x="1073.0" y="140" width="1" height="36" fill="#a81529"/>
<rect x="1072.0" y="160" width="3" height="6" fill="#a81529"/>
<rect x="1073.0" y="161" width="1" height="4" fill="#f92a42"/>
<rect x="1078.0" y="133" width="1" height="54" fill="#157043"/>
<rect x="1077.0" y="135" width="3" height="31" fill="#157043"/>
<rect x="1078.0" y="136" width="1" height="29" fill="#27a86e"/>
<rect x="1082.0" y="119" width="1" height="49" fill="#a81529"/>
<rect x="1081.0" y="135" width="3" height="33" fill="#a81529"/>
<rect x="1082.0" y="136" width="1" height="31" fill="#f92a42"/>
<rect x="1087.0" y="137" width="1" height="31" fill="#157043"/>
<rect x="1086.0" y="150" width="3" height="18" fill="#157043"/>
<rect x="1087.0" y="151" width="1" height="16" fill="#27a86e"/>
<rect x="1091.0" y="107" width="1" height="51" fill="#157043"/>
<rect x="1090.0" y="115" width="3" height="37" fill="#157043"/>
<rect x="1091.0" y="116" width="1" height="35" fill="#27a86e"/>
<rect x="1096.0" y="86" width="1" height="40" fill="#157043"/>
<rect x="1095.0" y="92" width="3" height="23" fill="#157043"/>
<rect x="1096.0" y="93" width="1" height="21" fill="#27a86e"/>
<rect x="1100.0" y="47" width="1" height="54" fill="#157043"/>
<rect x="1099.0" y="47" width="3" height="47" fill="#157043"/>
<rect x="1100.0" y="48" width="1" height="45" fill="#27a86e"/>
<rect x="1105.0" y="36" width="1" height="51" fill="#a81529"/>
<rect x="1104.0" y="50" width="3" height="29" fill="#a81529"/>
<rect x="1105.0" y="51" width="1" height="27" fill="#f92a42"/>
<rect x="1110.0" y="42" width="1" height="49" fill="#157043"/>
<rect x="1109.0" y="72" width="3" height="8" fill="#157043"/>
<rect x="1110.0" y="73" width="1" height="6" fill="#27a86e"/>
<rect x="1114.0" y="72" width="1" height="45" fill="#a81529"/>
<rect x="1113.0" y="72" width="3" height="42" fill="#a81529"/>
<rect x="1114.0" y="73" width="1" height="40" fill="#f92a42"/>
<rect x="1119.0" y="112" width="1" height="24" fill="#a81529"/>
<rect x="1118.0" y="112" width="3" height="12" fill="#a81529"/>
<rect x="1119.0" y="113" width="1" height="10" fill="#f92a42"/>
<rect x="1123.0" y="88" width="1" height="48" fill="#157043"/>
<rect x="1122.0" y="102" width="3" height="21" fill="#157043"/>
<rect x="1123.0" y="103" width="1" height="19" fill="#27a86e"/>
<rect x="1128.0" y="106" width="1" height="46" fill="#a81529"/>
<rect x="1127.0" y="106" width="3" height="24" fill="#a81529"/>
<rect x="1128.0" y="107" width="1" height="22" fill="#f92a42"/>
<rect x="1132.0" y="123" width="1" height="34" fill="#a81529"/>
<rect x="1131.0" y="130" width="3" height="12" fill="#a81529"/>
<rect x="1132.0" y="131" width="1" height="10" fill="#f92a42"/>
<rect x="1137.0" y="113" width="1" height="43" fill="#a81529"/>
<rect x="1136.0" y="139" width="3" height="15" fill="#a81529"/>
<rect x="1137.0" y="140" width="1" height="13" fill="#f92a42"/>
<rect x="1142.0" y="154" width="1" height="58" fill="#a81529"/>
<rect x="1141.0" y="154" width="3" height="46" fill="#a81529"/>
<rect x="1142.0" y="155" width="1" height="44" fill="#f92a42"/>
<rect x="1146.0" y="180" width="1" height="26" fill="#157043"/>
<rect x="1145.0" y="186" width="3" height="14" fill="#157043"/>
<rect x="1146.0" y="187" width="1" height="12" fill="#27a86e"/>
</g>
<polyline points="5,656 32.5,646 72.4,633.7 90,631.6 100.1,630.6 110.2,625.1 130.5,613.4 150.7,600.6 160.9,595.1 171,590.5 191.2,577.5 211.5,565.8 231.7,553.6 241.8,546.2 251.9,540.5 266.1,529.4 282.3,519.2 292.4,512.6 311.7,500 326.6,490.8 365.8,474.3 392.7,459.6 420.9,444.9 439.3,431.9 451.5,421.7 480.9,398.4 505.4,380 530.5,366.8 560,351.7 582,340.7 609,322.3 633.5,305.7 645.8,299 677.6,286.3 707,274 731.5,266.5 756,257.4 780.5,247.1 805,239 827,234.1 856,232.1 876.2,232 890.4,228.6 908.6,225.5 920.7,222.9 934.9,222.1 951.1,219.5 971.3,214.8 993.6,210.8 1005.7,207.3 1012.8,204.7 1019.9,205.9 1032,205.3 1042.2,205.3 1066.5,204.7 1082.7,203.3 1102.9,201.3 1123.2,199.8 1137.3,199.6 1146.4,200.6" fill="none" stroke="#673ab7" stroke-opacity="0.88" stroke-width="1.2" stroke-linejoin="round"/>
<rect x="2" y="186.8" width="1412" height="1.2" fill="#7f8d95"/>
<line x1="2" y1="399.5" x2="1236" y2="400" stroke="#cf0209" stroke-width="2.5"/>
<clipPath id="cp"><rect x="0" y="17.8" width="1482" height="660"/></clipPath><line clip-path="url(#cp)" x1="263.5" y1="18.6" x2="1277" y2="213.75" stroke="#3747b6" stroke-width="2.9" stroke-linecap="round" stroke-dasharray="8.3 7.69"/>
<path d="M1410.5 187.5 L1418.5 179 H1470 V196 H1418.5 Z" fill="#8c979c"/>
<rect x="1234" y="392.7" width="48.3" height="14.3" fill="#cf0a14"/>
<g shape-rendering="crispEdges" fill="#e3e7ea">
<rect x="1282" y="53" width="5" height="1"/>
<rect x="1349" y="53" width="5" height="1"/>
<rect x="1415" y="53" width="5" height="1"/>
<rect x="1282" y="90" width="5" height="1"/>
<rect x="1349" y="90" width="5" height="1"/>
<rect x="1415" y="90" width="5" height="1"/>
<rect x="1282" y="126" width="5" height="1"/>
<rect x="1349" y="126" width="5" height="1"/>
<rect x="1415" y="126" width="5" height="1"/>
<rect x="1282" y="162" width="5" height="1"/>
<rect x="1349" y="162" width="5" height="1"/>
<rect x="1415" y="162" width="5" height="1"/>
<rect x="1282" y="198" width="5" height="1"/>
<rect x="1349" y="198" width="5" height="1"/>
<rect x="1415" y="198" width="5" height="1"/>
<rect x="1282" y="234" width="5" height="1"/>
<rect x="1349" y="234" width="5" height="1"/>
<rect x="1415" y="234" width="5" height="1"/>
<rect x="1282" y="270" width="5" height="1"/>
<rect x="1349" y="270" width="5" height="1"/>
<rect x="1415" y="270" width="5" height="1"/>
<rect x="1282" y="306" width="5" height="1"/>
<rect x="1349" y="306" width="5" height="1"/>
<rect x="1415" y="306" width="5" height="1"/>
<rect x="1282" y="342" width="5" height="1"/>
<rect x="1349" y="342" width="5" height="1"/>
<rect x="1415" y="342" width="5" height="1"/>
<rect x="1282" y="379" width="5" height="1"/>
<rect x="1349" y="379" width="5" height="1"/>
<rect x="1415" y="379" width="5" height="1"/>
<rect x="1282" y="415" width="5" height="1"/>
<rect x="1349" y="415" width="5" height="1"/>
<rect x="1415" y="415" width="5" height="1"/>
<rect x="1282" y="451" width="5" height="1"/>
<rect x="1349" y="451" width="5" height="1"/>
<rect x="1415" y="451" width="5" height="1"/>
<rect x="1282" y="487" width="5" height="1"/>
<rect x="1349" y="487" width="5" height="1"/>
<rect x="1415" y="487" width="5" height="1"/>
<rect x="1282" y="523" width="5" height="1"/>
<rect x="1349" y="523" width="5" height="1"/>
<rect x="1415" y="523" width="5" height="1"/>
<rect x="1282" y="559" width="5" height="1"/>
<rect x="1349" y="559" width="5" height="1"/>
<rect x="1415" y="559" width="5" height="1"/>
<rect x="1282" y="595" width="5" height="1"/>
<rect x="1349" y="595" width="5" height="1"/>
<rect x="1415" y="595" width="5" height="1"/>
<rect x="1282" y="631" width="5" height="1"/>
<rect x="1349" y="631" width="5" height="1"/>
<rect x="1415" y="631" width="5" height="1"/>
<rect x="5" y="667" width="1" height="3"/>
<rect x="147" y="667" width="1" height="3"/>
<rect x="288" y="667" width="1" height="3"/>
<rect x="430" y="667" width="1" height="3"/>
<rect x="571" y="667" width="1" height="3"/>
<rect x="713" y="667" width="1" height="3"/>
<rect x="854" y="667" width="1" height="3"/>
<rect x="996" y="667" width="1" height="3"/>
<rect x="1137" y="667" width="1" height="3"/>
</g>
</svg>
<div class="ax" style="left:1292.6px;top:45.84px;letter-spacing:-0.15px">134.63</div>
<div class="ax" style="left:1357.6px;top:45.84px;letter-spacing:-0.15px">118.98</div>
<div class="ax" style="left:1422px;top:45.84px;letter-spacing:0px">1.08275</div>
<div class="ax" style="left:1292.6px;top:81.84px;letter-spacing:-0.15px">134.55</div>
<div class="ax" style="left:1357.6px;top:81.84px;letter-spacing:-0.15px">118.94</div>
<div class="ax" style="left:1422px;top:81.84px;letter-spacing:0px">1.08246</div>
<div class="ax" style="left:1292.6px;top:117.84px;letter-spacing:-0.15px">134.49</div>
<div class="ax" style="left:1357.6px;top:117.84px;letter-spacing:-0.15px">118.90</div>
<div class="ax" style="left:1422px;top:117.84px;letter-spacing:0px">1.08218</div>
<div class="ax" style="left:1292.6px;top:153.84px;letter-spacing:-0.15px">134.42</div>
<div class="ax" style="left:1357.6px;top:153.84px;letter-spacing:-0.15px">118.86</div>
<div class="ax" style="left:1422px;top:153.84px;letter-spacing:0px">1.08189</div>
<div class="ax" style="left:1292.6px;top:190.84px;letter-spacing:-0.15px">134.35</div>
<div class="ax" style="left:1357.6px;top:190.84px;letter-spacing:-0.15px">118.82</div>
<div class="ax" style="left:1422px;top:190.84px;letter-spacing:0px">1.08160</div>
<div class="ax" style="left:1292.6px;top:226.84px;letter-spacing:-0.15px">134.29</div>
<div class="ax" style="left:1357.6px;top:226.84px;letter-spacing:-0.15px">118.78</div>
<div class="ax" style="left:1422px;top:226.84px;letter-spacing:0px">1.08131</div>
<div class="ax" style="left:1292.6px;top:262.84px;letter-spacing:-0.15px">134.22</div>
<div class="ax" style="left:1357.6px;top:262.84px;letter-spacing:-0.15px">118.74</div>
<div class="ax" style="left:1422px;top:262.84px;letter-spacing:0px">1.08102</div>
<div class="ax" style="left:1292.6px;top:298.84px;letter-spacing:-0.15px">134.15</div>
<div class="ax" style="left:1357.6px;top:298.84px;letter-spacing:-0.15px">118.70</div>
<div class="ax" style="left:1422px;top:298.84px;letter-spacing:0px">1.08073</div>
<div class="ax" style="left:1292.6px;top:334.84px;letter-spacing:-0.15px">134.08</div>
<div class="ax" style="left:1357.6px;top:334.84px;letter-spacing:-0.15px">118.66</div>
<div class="ax" style="left:1422px;top:334.84px;letter-spacing:0px">1.08045</div>
<div class="ax" style="left:1292.6px;top:370.84px;letter-spacing:-0.15px">134.02</div>
<div class="ax" style="left:1357.6px;top:370.84px;letter-spacing:-0.15px">118.63</div>
<div class="ax" style="left:1422px;top:370.84px;letter-spacing:0px">1.08016</div>
<div class="ax" style="left:1292.6px;top:406.84px;letter-spacing:-0.15px">133.95</div>
<div class="ax" style="left:1357.6px;top:406.84px;letter-spacing:-0.15px">118.59</div>
<div class="ax" style="left:1422px;top:406.84px;letter-spacing:0px">1.07987</div>
<div class="ax" style="left:1292.6px;top:442.84px;letter-spacing:-0.15px">133.88</div>
<div class="ax" style="left:1357.6px;top:442.84px;letter-spacing:-0.15px">118.55</div>
<div class="ax" style="left:1422px;top:442.84px;letter-spacing:0px">1.07958</div>
<div class="ax" style="left:1292.6px;top:479.84px;letter-spacing:-0.15px">133.81</div>
<div class="ax" style="left:1357.6px;top:479.84px;letter-spacing:-0.15px">118.51</div>
<div class="ax" style="left:1422px;top:479.84px;letter-spacing:0px">1.07929</div>
<div class="ax" style="left:1292.6px;top:515.84px;letter-spacing:-0.15px">133.75</div>
<div class="ax" style="left:1357.6px;top:515.84px;letter-spacing:-0.15px">118.47</div>
<div class="ax" style="left:1422px;top:515.84px;letter-spacing:0px">1.07901</div>
<div class="ax" style="left:1292.6px;top:551.84px;letter-spacing:-0.15px">133.68</div>
<div class="ax" style="left:1357.6px;top:551.84px;letter-spacing:-0.15px">118.43</div>
<div class="ax" style="left:1422px;top:551.84px;letter-spacing:0px">1.07872</div>
<div class="ax" style="left:1292.6px;top:587.84px;letter-spacing:-0.15px">133.61</div>
<div class="ax" style="left:1357.6px;top:587.84px;letter-spacing:-0.15px">118.39</div>
<div class="ax" style="left:1422px;top:587.84px;letter-spacing:0px">1.07843</div>
<div class="tm" style="left:5.2px;top:670px">19.05.2023<span style="margin-left:10.5px">15:25</span></div>
<div class="tm" style="left:146.7px;top:670px">18:00</div>
<div class="tm" style="left:288.2px;top:670px">20:35</div>
<div class="tm" style="left:429.7px;top:670px">00:10</div>
<div class="tm" style="left:571.2px;top:670px">02:25</div>
<div class="tm" style="left:712.7px;top:670px">05:20</div>
<div class="tm" style="left:854.2px;top:670px">07:55</div>
<div class="tm" style="left:995.7px;top:670px">10:30</div>
<div class="tm" style="left:1137.2px;top:670px">13:05</div>
<div style="left:20px;top:15px;font-size:10.5px;line-height:16px;font-weight:bold;color:#3f4d57;transform-origin:0 50%;transform:scaleX(.93)">EURUSD</div>
<div style="left:73px;top:16.6px;font-size:8.5px;line-height:14px;font-weight:bold;color:#7d97a7;transform-origin:0 50%;transform:scaleX(.93)">FX</div>
<svg width="8" height="5" style="position:absolute;left:89.5px;top:19.5px"><path d="M0 0H7.4L3.7 4Z" fill="#bdbdbd"/></svg>
<svg width="14" height="14" style="position:absolute;left:104.2px;top:16px"><circle cx="7" cy="7" r="5.4" fill="none" stroke="#3f4d57" stroke-width="1"/><rect x="6.5" y="6" width="1" height="4" fill="#3f4d57"/><rect x="6.5" y="4" width="1" height="1.1" fill="#3f4d57"/></svg>
<div style="left:128.6px;top:13.6px;width:34px;height:16px;border:1px solid #e2e4e6;border-radius:3px"></div>
<div style="left:134.8px;top:15.3px;font-size:10.5px;line-height:16px;color:#56606a;transform-origin:0 50%;transform:scaleX(.9)">M5</div>
<svg width="8" height="5" style="position:absolute;left:153.4px;top:22.2px"><path d="M0 0H7.4L3.7 4Z" fill="#bdbdbd"/></svg>
<div style="left:1422.5px;top:179.5px;font-size:12px;line-height:16px;font-weight:bold;color:#fff;letter-spacing:-0.15px">1.08169</div>
<div style="left:1238.2px;top:393px;font-size:11px;line-height:14px;color:#fff;letter-spacing:0.25px">1.08000</div>
<div style="left:30.8px;top:643.9px;font-size:9.5px;line-height:14px;color:#727272;letter-spacing:.38px">SMA [200,&nbsp; 0] 1.08158</div>
<svg width="26" height="12" style="position:absolute;left:5px;top:642px"><g fill="#b9b9b9"><rect x="1" y="1.200" width="9.600" height="5.600"/><rect x="1" y="8.200" width="9.600" height="1.600"/></g><rect x="6" y="3.400" width="4.600" height="1.200" fill="#fff"/><path d="M15.200 2.600L22.400 9.400M22.400 2.600L15.200 9.400" stroke="#9a9a9a" stroke-width="1.700"/><path d="M14.600 6H23" stroke="#b5b5b5" stroke-width="1"/></svg>
<div style="left:1224px;top:640.6px;font-size:13.5px;line-height:18px;color:#b0bec5"><span style="color:#f7941d">01</span><span style="margin-left:1.5px">m</span><span style="color:#f7941d;margin-left:5.7px">42</span><span style="margin-left:1.4px">s</span></div>
<div style="left:1290px;top:637px;width:6px;height:6px;background:#fdd835"></div>
<div style="left:1299.5px;top:634px;font-size:9.2px;line-height:12px;font-weight:bold;color:#3f4d57;letter-spacing:-0.7px;transform-origin:0 50%;transform:scaleX(.92)">BUND10..</div>
<div style="left:1362px;top:637px;width:6px;height:6px;background:#4fc3f7"></div>
<div style="left:1371px;top:634px;font-size:9.2px;line-height:12px;font-weight:bold;color:#3f4d57;letter-spacing:-0.2px;transform-origin:0 50%;transform:scaleX(.92)">TNOTE</div>
<div style="left:1420px;top:637px;width:6px;height:6px;background:#26a96c"></div>
<div style="left:1430px;top:634px;font-size:9.2px;line-height:12px;font-weight:bold;color:#3f4d57;letter-spacing:-0.2px;transform-origin:0 50%;transform:scaleX(.92)">EURUSD</div>
<div style="left:1427px;top:646px;width:40px;height:16px;background:#e53238;border-radius:3.5px"></div>
<svg width="200" height="20" style="position:absolute;left:1285px;top:644px">
<g fill="none" stroke="#d3dbe0" stroke-width="1"><path d="M9.300 13C12 8 19 8 21.700 13C19 18 12 18 9.300 13Z"/><circle cx="15.500" cy="13" r="2.300" fill="#d3dbe0" stroke="none"/></g>
<path d="M29 11.500L33 8L37 11.500ZM29 14.500L33 18L37 14.500Z" fill="#4a5862"/>
<path d="M43 9.500L50 16.500M50 9.500L43 16.500" stroke="#e53238" stroke-width="1.600"/>
<g fill="none" stroke="#d3dbe0" stroke-width="1"><path d="M74.300 13C77 8 84 8 86.700 13C84 18 77 18 74.300 13Z"/><circle cx="80.500" cy="13" r="2.300" fill="#d3dbe0" stroke="none"/></g>
<path d="M94 11.500L98 8L102 11.500ZM94 14.500L98 18L102 14.500Z" fill="#4a5862"/>
<path d="M108 9.500L115 16.500M115 9.500L108 16.500" stroke="#e53238" stroke-width="1.600"/>
<g stroke="#fff" fill="none">
<path d="M149 6V15.700" stroke-width="1.100"/><rect x="147.900" y="8.300" width="2.200" height="5.200" fill="#e53238" stroke-width="1"/>
<path d="M153.500 6.600V15.400" stroke-width="0.800"/>
<path d="M157.700 7.300V14.700" stroke-width="1.100"/><rect x="156.700" y="9.900" width="2" height="2.600" fill="#e53238" stroke-width="1"/>
<path d="M169.400 7.900L176 14.300M176 7.900L169.400 14.300" stroke-width="1.800"/></g>
</svg>
</body></html>
